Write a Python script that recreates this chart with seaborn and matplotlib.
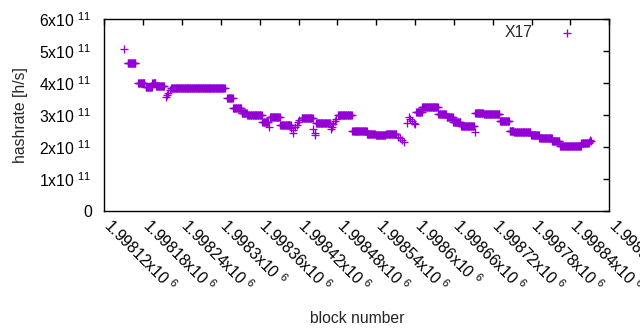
import numpy as np
import pandas as pd
import matplotlib
matplotlib.use("Agg")
import matplotlib.pyplot as plt
import matplotlib.transforms as mtransforms
import seaborn as sns

# step segments: first block, last block, hashrate (x1e11 h/s)
seg_start = [1998151, 1998156, 1998172, 1998184, 1998194, 1998200,
             1998215, 1998217, 1998219, 1998221, 1998223, 1998310,
             1998319, 1998332, 1998341, 1998364, 1998374, 1998376,
             1998392, 1998409, 1998411, 1998412, 1998415, 1998417,
             1998419, 1998421, 1998425, 1998443, 1998445, 1998446,
             1998447, 1998470, 1998472, 1998474, 1998476, 1998478,
             1998481, 1998503, 1998526, 1998539, 1998555, 1998574,
             1998577, 1998580, 1998583, 1998587, 1998590, 1998592,
             1998595, 1998598, 1998600, 1998602, 1998611, 1998636,
             1998649, 1998659, 1998671, 1998692, 1998693, 1998706,
             1998731, 1998746, 1998753, 1998779, 1998792, 1998812,
             1998824, 1998857, 1998869, 1998870, 1998871]
seg_end = [1998151, 1998168, 1998182, 1998193, 1998199, 1998212,
           1998215, 1998217, 1998219, 1998221, 1998306, 1998318,
           1998331, 1998340, 1998363, 1998373, 1998374, 1998391,
           1998408, 1998409, 1998411, 1998412, 1998415, 1998417,
           1998419, 1998421, 1998442, 1998443, 1998445, 1998446,
           1998469, 1998470, 1998472, 1998474, 1998476, 1998478,
           1998502, 1998525, 1998538, 1998554, 1998571, 1998574,
           1998577, 1998580, 1998583, 1998587, 1998590, 1998592,
           1998595, 1998598, 1998600, 1998610, 1998635, 1998648,
           1998658, 1998670, 1998691, 1998692, 1998705, 1998730,
           1998745, 1998752, 1998778, 1998791, 1998811, 1998823,
           1998856, 1998868, 1998869, 1998870, 1998871]
seg_value = [5.05, 4.62, 3.99, 3.87, 4.00, 3.90,
             3.55, 3.63, 3.70, 3.77, 3.83, 3.52,
             3.21, 3.05, 2.99, 2.79, 2.63, 2.93,
             2.68, 2.60, 2.53, 2.45, 2.62, 2.70,
             2.78, 2.84, 2.90, 2.55, 2.45, 2.38,
             2.75, 2.55, 2.63, 2.72, 2.80, 2.86,
             2.99, 2.49, 2.40, 2.37, 2.40, 2.32,
             2.27, 2.21, 2.17, 2.76, 2.93, 2.88,
             2.80, 2.76, 2.72, 3.08, 3.24, 3.02,
             2.95, 2.79, 2.66, 2.46, 3.05, 3.02,
             2.82, 2.51, 2.46, 2.375, 2.29, 2.20,
             2.04, 2.11, 2.17, 2.21, 2.18]

x_ticks = list(range(1998120, 1998901, 60))
y_ticks = [0, 1e11, 2e11, 3e11, 4e11, 5e11, 6e11]
x_ticklabels = ["%gx10 $^{6}$" % (v / 1e6) for v in x_ticks]
y_ticklabels = ["0"] + ["%dx10 $^{11}$" % i for i in range(1, 7)]

# one point per block
rows = []
for a, b, v in zip(seg_start, seg_end, seg_value):
    for blk in range(a, b + 1):
        rows.append((blk, v * 1e11))
df = pd.DataFrame(rows, columns=["block", "hashrate"])

sns.set_style("white")
plt.rcParams['font.family'] = ['Liberation Sans', 'DejaVu Sans']
plt.rcParams['mathtext.fontset'] = 'custom'
plt.rcParams['mathtext.rm'] = 'Liberation Sans'
plt.rcParams['mathtext.it'] = 'Liberation Sans:italic'

fig = plt.figure(figsize=(6.4, 3.3), dpi=100)
ax = fig.add_axes([0.163, 0.3606, 0.789, 0.582])

sns.scatterplot(data=df, x="block", y="hashrate", marker="+", s=34,
                color="#9400d3", linewidth=0.95, ax=ax, label="X17")

ax.set_xlim(1998120, 1998900)
ax.set_ylim(0, 6e11)
ax.set_xticks(x_ticks)
ax.set_xticklabels(x_ticklabels, rotation=-45, ha="left", va="top",
                   rotation_mode="anchor", fontsize=11.3)
ax.set_yticks(y_ticks)
ax.set_yticklabels(y_ticklabels, fontsize=11.3)
ax.tick_params(direction="in", length=4, width=1, top=True, right=True,
               colors="black")
ax.tick_params(axis="y", pad=9)
ax.tick_params(axis="x", pad=6)
for s in ax.spines.values():
    s.set_color("black")
    s.set_linewidth(1)

# nudge rotated labels so they start right at the tick like gnuplot
shift = mtransforms.ScaledTranslation(9 / 100, 4 / 100, fig.dpi_scale_trans)
for lab in ax.get_xticklabels():
    lab.set_transform(lab.get_transform() + shift)

ax.set_xlabel("block number", fontsize=11.3, labelpad=11)
ax.set_ylabel("hashrate [h/s]", fontsize=11.3, labelpad=8)

ax.legend(loc="upper right", bbox_to_anchor=(0.947, 0.97), frameon=False,
          markerfirst=False, handletextpad=1.2, handlelength=2,
          borderaxespad=0, borderpad=0, fontsize=11.3)

fig.savefig("out.png", dpi=100)
